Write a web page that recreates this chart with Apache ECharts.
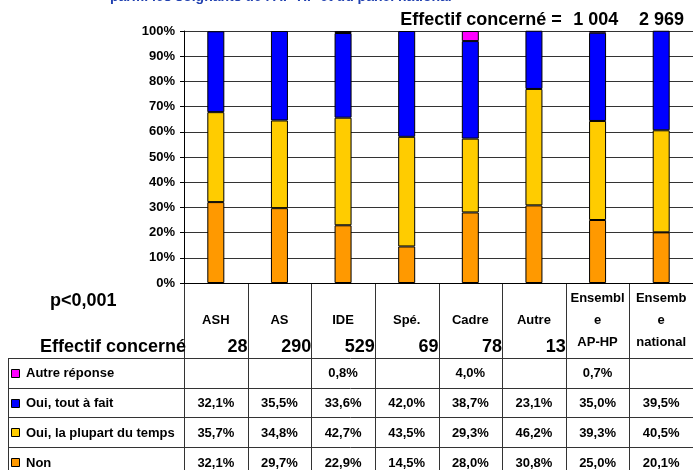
<!DOCTYPE html>
<html>
<head>
<meta charset="utf-8">
<script src="https://cdn.jsdelivr.net/npm/echarts@6/dist/echarts.min.js"></script>
<style>
  html, body { margin: 0; padding: 0; background: #fff; }
  #chart { width: 693px; height: 470px; }
</style>
</head>
<body>
<div id="chart"></div>
<script>
// Professional categories (bars, left to right)
const categories = ['ASH', 'AS', 'IDE', 'Spé.', 'Cadre', 'Autre', 'Ensemble AP-HP', 'Ensemble national'];
// Header text as it wraps inside the table columns
const headerLabels = ['ASH', 'AS', 'IDE', 'Spé.', 'Cadre', 'Autre', 'Ensembl\ne\nAP-HP', 'Ensemb\ne\nnational'];
// Number of respondents per category
const effectifs = [28, 290, 529, 69, 78, 13, null, null];
const totalApHp = '1 004';
const totalNational = '2 969';

// Answer shares (%), one array per answer
const nonValues       = [32.1, 29.7, 22.9, 14.5, 28.0, 30.8, 25.0, 20.1];
const plupartValues   = [35.7, 34.8, 42.7, 43.5, 29.3, 46.2, 39.3, 40.5];
const toutAFaitValues = [32.1, 35.5, 33.6, 42.0, 38.7, 23.1, 35.0, 39.5];
const autreValues     = [null, null, 0.8, null, 4.0, null, 0.7, null];

const pValueText = 'p<0,001';
const titleText = "parmi les soignants de l'AP-HP et du panel national";

const FONT = "'Liberation Sans', Arial, Helvetica, sans-serif";
const LINE = '#333333';

const answers = [
  { name: 'Non', data: nonValues, color: '#FF9900' },
  { name: 'Oui, la plupart du temps', data: plupartValues, color: '#FFCC00' },
  { name: 'Oui, tout à fait', data: toutAFaitValues, color: '#0000FF' },
  { name: 'Autre réponse', data: autreValues, color: '#FF00FF' }
];
// Table rows are listed top to bottom
const tableRows = [answers[3], answers[2], answers[1], answers[0]];

const fmtPct = v => (v == null ? '' : v.toFixed(1).replace('.', ',') + '%');

const chart = echarts.init(document.getElementById('chart'), null, { renderer: 'canvas' });

chart.setOption({
  animation: false,
  backgroundColor: '#ffffff',
  grid: { left: 184, top: 31, width: 518, height: 252, containLabel: false },
  xAxis: {
    type: 'category',
    data: categories,
    axisLine: { show: true, lineStyle: { color: '#000', width: 1 } },
    axisTick: { show: false },
    axisLabel: { show: false },
    splitLine: { show: false }
  },
  yAxis: {
    type: 'value',
    min: 0, max: 100, interval: 10,
    axisLine: { show: true, lineStyle: { color: '#000', width: 1 } },
    axisTick: { show: true, length: 4, lineStyle: { color: '#000' } },
    axisLabel: {
      formatter: '{value}%', color: '#000', fontFamily: FONT,
      fontWeight: 'bold', fontSize: 13, margin: 9
    },
    splitLine: { show: true, lineStyle: { color: LINE, width: 1 } }
  },
  series: answers.map(a => ({
    name: a.name,
    type: 'bar',
    stack: 'total',
    barWidth: 17,
    data: a.data,
    itemStyle: { color: a.color, borderColor: '#000', borderWidth: 1 }
  }))
});

// Data table and annotations, laid out from the category axis
function buildTable() {
  const c0 = chart.convertToPixel({ xAxisIndex: 0 }, 0);
  const c1 = chart.convertToPixel({ xAxisIndex: 0 }, 1);
  const band = c1 - c0;
  const edge = i => c0 - band / 2 + i * band;
  const yBase = chart.convertToPixel({ yAxisIndex: 0 }, 0);
  const headerH = 75;
  const rowH = 29.7;
  const tableLeft = 8;
  const tableRight = edge(categories.length);
  const bottom = 470;
  const px = v => Math.round(v) + 0.5;

  const els = [];
  const line = (x1, y1, x2, y2) => els.push({
    type: 'line', silent: true,
    shape: { x1, y1, x2, y2 },
    style: { stroke: LINE, lineWidth: 1 }
  });
  const text = (str, x, y, opt) => els.push({
    type: 'text', silent: true, x, y,
    style: Object.assign({
      text: str, fill: '#000', font: 'bold 13px ' + FONT,
      align: 'center', verticalAlign: 'middle'
    }, opt || {})
  });

  // Title (upper part runs off the top)
  text(titleText, 110, 4, { fill: '#2040B0', font: 'bold 14px ' + FONT, align: 'left', verticalAlign: 'bottom' });

  // Totals above the overall columns
  text('Effectif concerné =', edge(6) - 4, 20, { font: 'bold 18px ' + FONT, align: 'right' });
  text(totalApHp, edge(7) - 11, 20, { font: 'bold 18px ' + FONT, align: 'right' });
  text(totalNational, edge(8) - 9, 20, { font: 'bold 18px ' + FONT, align: 'right' });

  // Column separators under the axis
  for (let i = 0; i <= categories.length; i++) {
    line(px(edge(i)), yBase, px(edge(i)), bottom);
  }
  // Row separators
  const rowTop = yBase + headerH;
  line(tableLeft, px(rowTop), tableRight, px(rowTop));
  tableRows.forEach((r, k) => {
    const y = rowTop + (k + 1) * rowH;
    line(tableLeft, px(y), tableRight, px(y));
  });
  line(px(tableLeft), rowTop, px(tableLeft), bottom);

  // Header cells
  text(pValueText, 50, yBase + 18, { font: 'bold 18px ' + FONT, align: 'left' });
  text('Effectif concerné', 40, yBase + 64, { font: 'bold 18px ' + FONT, align: 'left' });
  headerLabels.forEach((lab, i) => {
    const cx = (edge(i) + edge(i + 1)) / 2;
    text(lab, cx, yBase + 37, { lineHeight: 22 });
    if (effectifs[i] != null) {
      text(String(effectifs[i]), edge(i + 1), yBase + 64, { font: 'bold 18px ' + FONT, align: 'right' });
    }
  });

  // Value rows with legend keys
  tableRows.forEach((r, k) => {
    const cy = rowTop + k * rowH + rowH / 2 + 1;
    els.push({
      type: 'rect', silent: true,
      shape: { x: 11.5, y: Math.round(cy - 5) + 0.5, width: 8, height: 8 },
      style: { fill: r.color, stroke: '#000', lineWidth: 1 }
    });
    text(r.name, 26, cy, { align: 'left' });
    r.data.forEach((v, i) => {
      const cx = (edge(i) + edge(i + 1)) / 2;
      if (v != null) text(fmtPct(v), cx, cy);
    });
  });

  chart.setOption({ graphic: { elements: els } });
}

buildTable();
</script>
</body>
</html>
